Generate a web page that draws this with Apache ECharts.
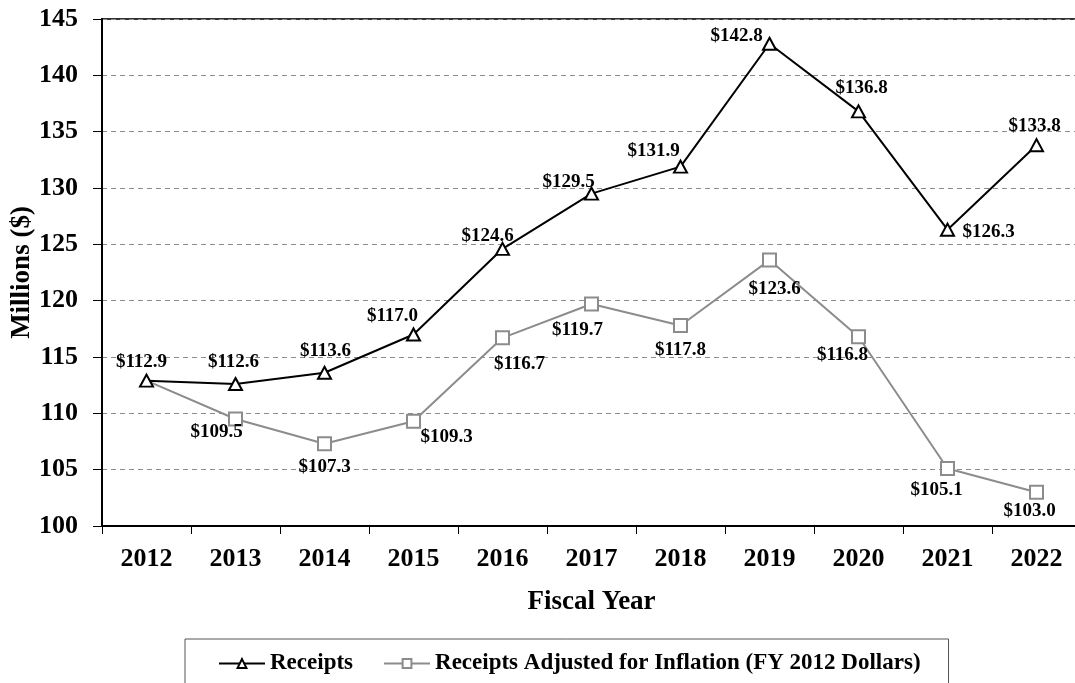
<!DOCTYPE html>
<html>
<head>
<meta charset="utf-8">
<script src="https://cdn.jsdelivr.net/npm/echarts@6/dist/echarts.min.js"></script>
<style>
  html, body { margin: 0; padding: 0; background: #fff; }
  #chart { width: 1075px; height: 683px; }
</style>
</head>
<body>
<div id="chart"></div>
<script>
// fiscal years
var years = ["2012", "2013", "2014", "2015", "2016", "2017", "2018", "2019", "2020", "2021", "2022"];
// receipts, millions of dollars
var receipts = [112.9, 112.6, 113.6, 117.0, 124.6, 129.5, 131.9, 142.8, 136.8, 126.3, 133.8];
// receipts in FY 2012 dollars (2012 is the base year)
var adjusted = [112.9, 109.5, 107.3, 109.3, 116.7, 119.7, 117.8, 123.6, 116.8, 105.1, 103.0];
var yTicks = [100, 105, 110, 115, 120, 125, 130, 135, 140, 145];

var font = "'Liberation Serif', 'Times New Roman', serif";

// label centre relative to the point, px
var receiptsLabelOff = [
  [-5, -19], [-2, -22], [1, -22], [-21, -18], [-15, -13], [-23, -12],
  [-27, -15], [-33, -8], [3, -23], [41, 2], [-2, -19]
];
var adjustedLabelOff = [
  null, [-19, 13], [0, 23], [33, 16], [17, 26], [-14, 26],
  [0, 25], [5, 29], [-16, 18], [-11, 22], [-7, 19]
];

function withLabels(values, offs) {
  return values.map(function (v, i) {
    if (!offs[i]) {
      // base year point sits under the receipts marker
      return { value: v, symbol: "none", label: { show: false } };
    }
    return { value: v, label: { position: "inside", offset: offs[i] } };
  });
}

var labelStyle = {
  show: true,
  fontFamily: font,
  fontWeight: "bold",
  fontSize: 19,
  color: "#000",
  formatter: function (p) { return "$" + p.value.toFixed(1); }
};

var chart = echarts.init(document.getElementById("chart"));
chart.setOption({
  animation: false,
  textStyle: { fontFamily: font },
  grid: {
    left: 102,
    top: 19,
    width: 979,
    height: 507,
    outerBoundsMode: "none",
    containLabel: false,
    show: true,
    borderColor: "#333",
    borderWidth: 2,
    backgroundColor: "transparent"
  },
  legend: {
    top: 639,
    left: 185,
    padding: [13, 28, 24, 33],
    borderColor: "#555",
    borderWidth: 1,
    itemWidth: 46,
    itemHeight: 11,
    itemGap: 30,
    textStyle: { fontFamily: font, fontWeight: "bold", fontSize: 23, color: "#000" },
    data: ["Receipts", "Receipts Adjusted for Inflation (FY 2012 Dollars)"]
  },
  xAxis: {
    type: "category",
    data: years,
    boundaryGap: true,
    name: "Fiscal Year",
    nameLocation: "middle",
    nameGap: 63,
    nameTextStyle: { fontFamily: font, fontWeight: "bold", fontSize: 27, color: "#000" },
    axisLine: { lineStyle: { color: "#000", width: 2 } },
    axisTick: { show: true, length: 8, lineStyle: { color: "#000", width: 1 } },
    axisLabel: { fontFamily: font, fontWeight: "bold", fontSize: 26, color: "#000", margin: 20 },
    splitLine: { show: false }
  },
  yAxis: {
    type: "value",
    min: yTicks[0],
    max: yTicks[yTicks.length - 1],
    interval: 5,
    name: "Millions ($)",
    nameLocation: "middle",
    nameGap: 66,
    nameMoveOverlap: false,
    nameRotate: 90,
    nameTextStyle: { fontFamily: font, fontWeight: "bold", fontSize: 27, color: "#000" },
    axisLine: { show: true, lineStyle: { color: "#000", width: 2 } },
    axisTick: { show: true, length: 9, lineStyle: { color: "#000", width: 1 } },
    axisLabel: { fontFamily: font, fontWeight: "bold", fontSize: 26, color: "#000", margin: 24 },
    splitLine: { show: true, lineStyle: { color: "#8c8c8c", type: [5, 4], width: 1 } }
  },
  series: [
    {
      name: "Receipts",
      type: "line",
      data: withLabels(receipts, receiptsLabelOff),
      symbol: "triangle",
      symbolSize: [13, 12],
      showAllSymbol: true,
      lineStyle: { color: "#000", width: 2 },
      itemStyle: { color: "#fff", borderColor: "#000", borderWidth: 2 },
      label: labelStyle,
      z: 3
    },
    {
      name: "Receipts Adjusted for Inflation (FY 2012 Dollars)",
      type: "line",
      data: withLabels(adjusted, adjustedLabelOff),
      symbol: "rect",
      symbolSize: 13,
      showAllSymbol: true,
      lineStyle: { color: "#8c8c8c", width: 2 },
      itemStyle: { color: "#fff", borderColor: "#8c8c8c", borderWidth: 2 },
      label: labelStyle,
      z: 2
    }
  ]
});
</script>
</body>
</html>
